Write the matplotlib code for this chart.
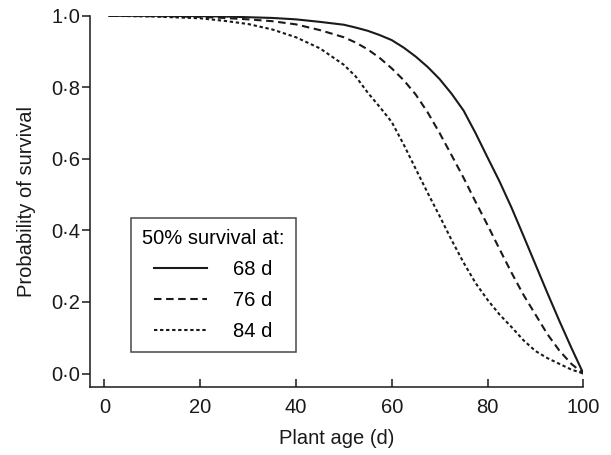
import matplotlib
matplotlib.use("Agg")
import matplotlib.pyplot as plt

plt.rcParams['font.family'] = ['Liberation Sans', 'DejaVu Sans']

days = [1, 10, 20, 25, 30, 35, 40, 45, 50, 52.5, 55, 57.5, 60, 62.5, 65, 67.5, 70, 72.5,
        75, 77.5, 80, 82.5, 85, 87.5, 90, 92.5, 95, 97.5, 100]
surv_68 = [1.0, 1.0, 0.999, 0.998, 0.996, 0.994, 0.990, 0.983, 0.975, 0.967, 0.958, 0.946,
           0.932, 0.911, 0.886, 0.857, 0.823, 0.782, 0.735, 0.672, 0.604, 0.537, 0.464,
           0.385, 0.305, 0.225, 0.147, 0.072, 0.0]
surv_76 = [1.0, 0.999, 0.997, 0.994, 0.990, 0.985, 0.976, 0.960, 0.940, 0.925, 0.906, 0.882,
           0.853, 0.820, 0.780, 0.730, 0.672, 0.610, 0.547, 0.480, 0.415, 0.348, 0.282,
           0.220, 0.165, 0.110, 0.064, 0.027, 0.0]
surv_84 = [1.0, 0.998, 0.993, 0.986, 0.977, 0.962, 0.940, 0.909, 0.863, 0.830, 0.785, 0.745,
           0.703, 0.640, 0.572, 0.505, 0.440, 0.373, 0.310, 0.253, 0.206, 0.165, 0.130,
           0.093, 0.063, 0.043, 0.027, 0.011, 0.0]
labels = ['68 d', '76 d', '84 d']
xticks = [0, 20, 40, 60, 80, 100]
yticks = [0.0, 0.2, 0.4, 0.6, 0.8, 1.0]
ytick_labels = ['0·0', '0·2', '0·4', '0·6', '0·8', '1·0']

FS = 14.5
fig = plt.figure(figsize=(6.11, 4.55), dpi=100)
ax = fig.add_axes([0.1473, 0.150, 0.8074, 0.8153])

col = '#1a1a1a'
ax.plot(days, surv_68, color=col, lw=1.5, linestyle='-', label=labels[0])
ax.plot(days, surv_76, color=col, lw=1.5, dashes=(3.6, 2.2), label=labels[1])
ax.plot(days, surv_84, color=col, lw=1.5, dashes=(1.6, 1.3), label=labels[2])

ax.set_xlim(-3, 100)
ax.set_ylim(-0.037, 1.0)
ax.set_xticks(xticks)
ax.set_yticks(yticks)
ax.set_yticklabels(ytick_labels)
for s in ['top', 'right']:
    ax.spines[s].set_visible(False)
for s in ['left', 'bottom']:
    ax.spines[s].set_linewidth(1.1)
    ax.spines[s].set_color(col)
ax.tick_params(width=1.1, color=col, labelsize=FS, labelcolor=col)
ax.tick_params(axis='x', direction='in', length=5.5, pad=8)
ax.tick_params(axis='y', direction='out', length=5.5, pad=1.5)

ax.set_xlabel('Plant age (d)', fontsize=FS, color=col, labelpad=9)
ax.set_ylabel('Probability of survival', fontsize=FS, color=col, labelpad=11)

leg = ax.legend(title='50% survival at:', loc='upper left',
                bbox_to_anchor=(0.083, 0.455), frameon=True, fancybox=False,
                edgecolor=col, fontsize=FS, title_fontsize=FS,
                handlelength=2.6, handletextpad=1.3, labelspacing=0.6,
                borderpad=0.55, borderaxespad=0.0, alignment='center')
leg.get_frame().set_linewidth(1.1)

fig.savefig('out.png', dpi=100, facecolor='white')
